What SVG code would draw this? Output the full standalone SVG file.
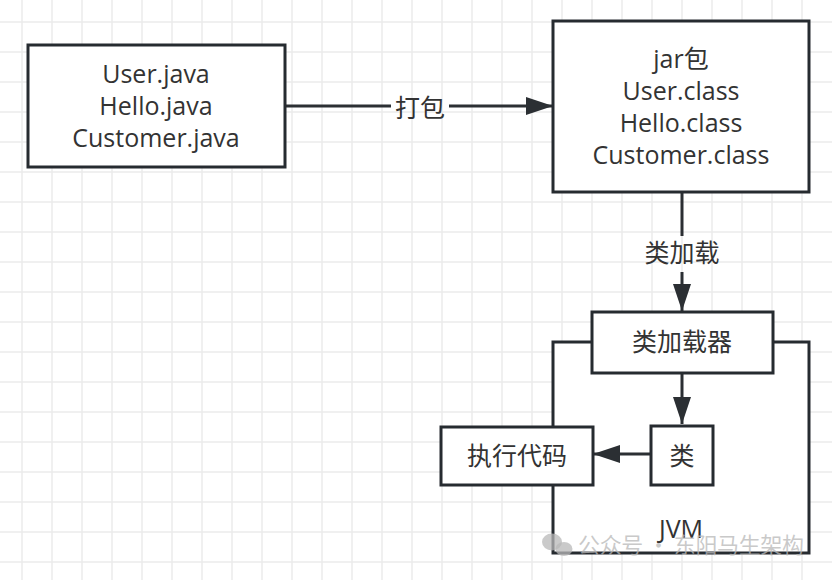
<svg xmlns="http://www.w3.org/2000/svg" width="832" height="580" viewBox="0 0 832 580">
<defs>
<style>
.grid{stroke:#ebebeb;stroke-width:1.5;fill:none}
.box{fill:#ffffff;stroke:#262b30;stroke-width:3}
.edge{stroke:#2b2f33;stroke-width:3;fill:none}
.t{font-family:"Open Sans","Noto Sans CJK SC",sans-serif;font-size:25px;fill:#333333;text-anchor:middle}
.wm{font-family:"Noto Sans CJK SC",sans-serif;font-size:22px;fill:#b8b8b8;fill-opacity:0.75}
</style>
<marker id="ah" markerUnits="userSpaceOnUse" markerWidth="28" markerHeight="18" refX="27" refY="9" orient="auto">
<path d="M0,0 L27,9 L0,18 z" fill="#2b2f33"/>
</marker>
</defs>
<rect width="832" height="580" fill="#ffffff"/>
<path class="grid" d="M22,0V580M52,0V580M82,0V580M112,0V580M142,0V580M172,0V580M202,0V580M232,0V580M262,0V580M292,0V580M322,0V580M352,0V580M382,0V580M412,0V580M442,0V580M472,0V580M502,0V580M532,0V580M562,0V580M592,0V580M622,0V580M652,0V580M682,0V580M712,0V580M742,0V580M772,0V580M802,0V580M0,22H832M0,52H832M0,82H832M0,112H832M0,142H832M0,172H832M0,202H832M0,232H832M0,262H832M0,292H832M0,322H832M0,352H832M0,382H832M0,412H832M0,442H832M0,472H832M0,502H832M0,532H832M0,562H832"/>

<g id="jvm">
<rect class="box" x="553" y="342" width="256" height="211"/>
<text class="t" x="681" y="538">JVM</text>
</g>

<g id="connectors">
<path class="edge" d="M285,106H391"/>
<path class="edge" d="M449,106H553" marker-end="url(#ah)"/>
<text class="t" x="420" y="117">打包</text>
<path class="edge" d="M682,193V236"/>
<path class="edge" d="M682,272V311" marker-end="url(#ah)"/>
<text class="t" x="682" y="262">类加载</text>
<path class="edge" d="M682,373V424" marker-end="url(#ah)"/>
<path class="edge" d="M651,454H593" marker-end="url(#ah)"/>
</g>

<g id="source">
<rect class="box" x="28" y="45" width="257" height="122"/>
<text class="t" x="156" y="83">User.java</text>
<text class="t" x="156" y="115">Hello.java</text>
<text class="t" x="156" y="147">Customer.java</text>
</g>

<g id="jar">
<rect class="box" x="553" y="21" width="256" height="171"/>
<text class="t" x="681" y="68">jar包</text>
<text class="t" x="681" y="99.5">User.class</text>
<text class="t" x="681" y="131.5">Hello.class</text>
<text class="t" x="681" y="163.5">Customer.class</text>
</g>

<g id="classloader">
<rect class="box" x="592" y="312" width="181" height="61"/>
<text class="t" x="682" y="351">类加载器</text>
</g>

<g id="class">
<rect class="box" x="651" y="426" width="62" height="59"/>
<text class="t" x="682" y="465">类</text>
</g>

<g id="execute">
<rect class="box" x="441" y="427" width="152" height="58"/>
<text class="t" x="517" y="465">执行代码</text>
</g>

<g id="watermark" fill="#b8b8b8" fill-opacity="0.75">
<ellipse cx="552" cy="542" rx="10" ry="8.5"/>
<ellipse cx="564" cy="549" rx="8.5" ry="7"/>
<text class="wm" x="578" y="553" textLength="226">公众号 · 东阳马生架构</text>
</g>
</svg>
